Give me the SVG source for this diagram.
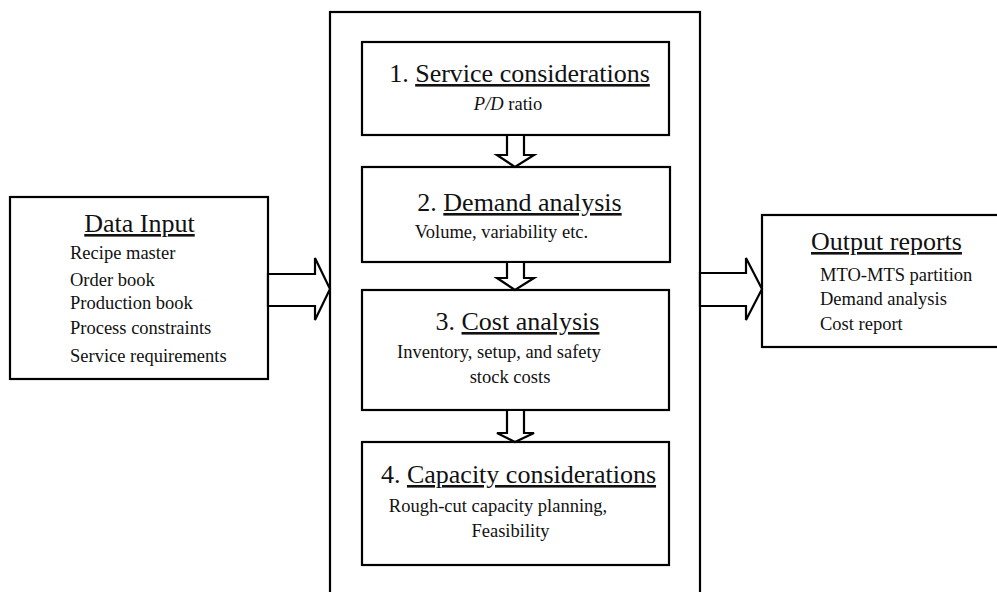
<svg xmlns="http://www.w3.org/2000/svg" width="997" height="592" viewBox="0 0 997 592">
<style>
.box{fill:#fff;stroke:#000;stroke-width:2.2}
.arr{fill:#fff;stroke:#000;stroke-width:2.2;stroke-linejoin:miter}
text{font-family:"Liberation Serif","Times New Roman",serif;fill:#111}
.t{font-size:26px}
.s{font-size:18.5px}
.u{text-decoration:underline}
.m{text-anchor:middle}
</style>
<rect x="0" y="0" width="997" height="592" fill="#fff"/>
<g id="process">
<rect class="box" x="330" y="12" width="370" height="600"/>
</g>
<g id="data-input">
<rect class="box" x="10" y="197" width="258" height="182"/>
<text class="t m" x="139.5" y="232"><tspan class="u">Data Input</tspan></text>
<text class="s" x="70" y="259">Recipe master</text>
<text class="s" x="70" y="286">Order book</text>
<text class="s" x="70" y="309">Production book</text>
<text class="s" x="70" y="334">Process constraints</text>
<text class="s" x="70" y="362">Service requirements</text>
</g>
<g id="output-reports">
<rect class="box" x="762" y="215" width="240" height="132"/>
<text class="t m" x="886.5" y="250"><tspan class="u">Output reports</tspan></text>
<text class="s" x="820" y="281">MTO-MTS partition</text>
<text class="s" x="820" y="305">Demand analysis</text>
<text class="s" x="820" y="330">Cost report</text>
</g>
<g id="step1">
<rect class="box" x="362" y="42" width="307" height="93"/>
<text class="t m" x="519.5" y="82">1. <tspan class="u">Service considerations</tspan></text>
<text class="s m" x="508" y="110"><tspan font-style="italic">P/D</tspan>  ratio</text>
</g>
<g id="step2">
<rect class="box" x="362" y="167" width="308" height="95"/>
<text class="t m" x="519.5" y="211">2. <tspan class="u">Demand analysis</tspan></text>
<text class="s m" x="501.5" y="238">Volume, variability etc.</text>
</g>
<g id="step3">
<rect class="box" x="362" y="290" width="307" height="120"/>
<text class="t m" x="517.5" y="330">3. <tspan class="u">Cost analysis</tspan></text>
<text class="s m" x="499" y="358">Inventory, setup, and safety</text>
<text class="s m" x="510" y="383">stock costs</text>
</g>
<g id="step4">
<rect class="box" x="362" y="442" width="307" height="123"/>
<text class="t m" x="518.5" y="483">4. <tspan class="u">Capacity considerations</tspan></text>
<text class="s m" x="498" y="512">Rough-cut capacity planning,</text>
<text class="s m" x="510.5" y="537">Feasibility</text>
</g>
<g id="connectors">
<polygon class="arr" points="268,274 315,274 315,258 330,289 315,320 315,306 268,306"/>
<polygon class="arr" points="700,273 746,273 746,258 762,289 746,320 746,306 700,306"/>
<polygon class="arr" points="507,135 524,135 524,155 534,155 515,167 497,155 507,155"/>
<polygon class="arr" points="507,262 524,262 524,278 534,278 515,290 497,278 507,278"/>
<polygon class="arr" points="507,410 524,410 524,433 534,433 515,442 497,433 507,433"/>
</g>
</svg>
